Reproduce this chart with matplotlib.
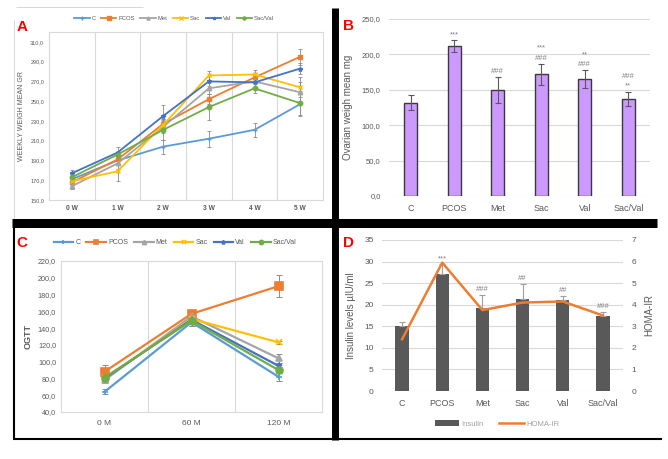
import numpy as np
import matplotlib
matplotlib.use('Agg')
import matplotlib.pyplot as plt
from matplotlib.lines import Line2D

plt.rcParams['font.family'] = ['Liberation Sans', 'DejaVu Sans']

# ---- data ----
groups = ['C', 'PCOS', 'Met', 'Sac', 'Val', 'Sac/Val']
weeks = ['0 W', '1 W', '2 W', '3 W', '4 W', '5 W']

weight_C = [171, 190, 204, 212, 221, 247]
weight_PCOS = [168, 191, 227, 252, 274, 295]
weight_Met = [164, 187, 224, 263, 270, 259]
weight_Sac = [169, 179, 226, 276, 277, 264]
weight_Val = [177, 198, 235, 270, 269, 283]
weight_SacVal = [173, 196, 221, 244, 263, 248]
weight_err_C = [3, 4, 7, 8, 7, 12]
weight_err_PCOS = [3, 4, 5, 5, 5, 8]
weight_err_Met = [3, 6, 6, 6, 6, 10]
weight_err_Sac = [3, 10, 6, 5, 5, 10]
weight_err_Val = [3, 6, 11, 5, 6, 6]
weight_err_SacVal = [3, 4, 10, 13, 5, 12]

ovary_mean = [132, 212, 150, 172, 165, 137]
ovary_err = [11, 8, 18, 15, 13, 10]
ovary_marks = ['', '***', '###', '***\n###', '**\n###', '###\n**']

times = ['0 M', '60 M', '120 M']
ogtt_C = [64, 147, 82]
ogtt_PCOS = [88, 157, 190]
ogtt_Met = [78, 154, 104]
ogtt_Sac = [80, 151, 123]
ogtt_Val = [80, 150, 95]
ogtt_SacVal = [81, 149, 90]
ogtt_err_C = [3, 5, 5]
ogtt_err_PCOS = [8, 4, 13]
ogtt_err_Met = [4, 5, 5]
ogtt_err_Sac = [4, 5, 2]
ogtt_err_Val = [4, 5, 4]
ogtt_err_SacVal = [4, 6, 4]

insulin = [15.1, 27.2, 19.2, 21.4, 21.2, 17.5]
insulin_err = [1.0, 2.2, 3.0, 3.4, 0.9, 0.9]
insulin_marks = ['', '***', '###', '##', '##', '###']
homa_ir = [2.4, 5.95, 3.75, 4.1, 4.15, 3.5]

# excel-ish styles
colors = ['#5B9BD5', '#ED7D31', '#A5A5A5', '#FFC000', '#4472C4', '#70AD47']
markers = ['+', 's', '^', 'x', '*', 'o']
txt = '#595959'
grid_c = '#D9D9D9'

W, H = 668, 459
fig = plt.figure(figsize=(W / 100, H / 100), dpi=100)


def px_axes(l, t, r, b):
    return fig.add_axes([l / W, 1 - b / H, (r - l) / W, (b - t) / H])


def fig_line(x0, y0, x1, y1, lw, color='black'):
    fig.add_artist(Line2D([x0 / W, x1 / W], [1 - y0 / H, 1 - y1 / H],
                          lw=lw, color=color, solid_capstyle='butt'))


def light_box(ax):
    for s in ax.spines.values():
        s.set_color(grid_c)
        s.set_linewidth(0.8)
    ax.tick_params(length=0, colors=txt)


# ---- A: weekly weight ----
axA = px_axes(49, 32, 323, 200)
wt = [weight_C, weight_PCOS, weight_Met, weight_Sac, weight_Val, weight_SacVal]
wt_err = [weight_err_C, weight_err_PCOS, weight_err_Met, weight_err_Sac,
          weight_err_Val, weight_err_SacVal]
xa = np.arange(len(weeks))
for i, g in enumerate(groups):
    axA.errorbar(xa, wt[i], yerr=wt_err[i], fmt='none', ecolor='#8C8C8C',
                 elinewidth=0.6, capsize=1.5, capthick=0.6, zorder=2)
    axA.plot(xa, wt[i], color=colors[i], lw=1.3, marker=markers[i],
             ms=3.2 if markers[i] != 's' else 3.5, mew=1, label=g, zorder=3)
axA.set_xlim(-0.5, 5.5)
axA.set_ylim(150, 320)
axA.set_yticks(np.arange(150, 311, 20))
axA.set_yticklabels(['%d,0' % v for v in range(150, 311, 20)], fontsize=4)
axA.set_xticks(xa)
axA.set_xticklabels(weeks, fontsize=4.8, fontweight='bold')
axA.set_xticks(np.arange(0.5, 5, 1), minor=True)
axA.grid(axis='x', which='minor', color=grid_c, lw=0.8)
axA.tick_params(which='minor', length=0)
light_box(axA)
axA.set_ylabel('WEEKLY WEIGH MEAN GR', fontsize=5, color=txt, labelpad=4)
axA.legend(loc='center', bbox_to_anchor=(174 / W, 1 - 18 / H),
           bbox_transform=fig.transFigure, ncol=6, frameon=False,
           fontsize=4.2, handlelength=2.6, columnspacing=1.0,
           handletextpad=0.3, markerscale=0.7, labelcolor=txt)

# ---- B: ovarian weight ----
axB = px_axes(389, 19, 650, 196)
xb = np.arange(len(groups))
axB.bar(xb, ovary_mean, width=0.31, color='#CC99FF', edgecolor='#3A3A3A',
        lw=1.0, zorder=3)
axB.errorbar(xb, ovary_mean, yerr=ovary_err, fmt='none', ecolor='#595959',
             elinewidth=0.8, capsize=2, capthick=0.8, zorder=4)
for i, m in enumerate(ovary_marks):
    if m:
        axB.annotate(m, (xb[i], ovary_mean[i] + ovary_err[i]), xytext=(0, 1.5),
                     textcoords='offset points', ha='center', va='bottom',
                     fontsize=5.5, color='#7F7F7F', linespacing=1.6)
axB.set_xlim(-0.5, 5.5)
axB.set_ylim(0, 250)
axB.set_yticks(np.arange(0, 251, 50))
axB.set_yticklabels(['%d,0' % v for v in range(0, 251, 50)], fontsize=5.5)
axB.set_xticks(xb)
axB.set_xticklabels(groups, fontsize=6.5)
axB.grid(axis='y', color=grid_c, lw=0.8, zorder=0)
for s in axB.spines.values():
    s.set_visible(False)
axB.tick_params(length=0, colors=txt, pad=6)
axB.set_ylabel('Ovarian weigh mean mg', fontsize=7, color=txt, labelpad=6)

# ---- C: OGTT ----
axC = px_axes(61, 261, 322, 412)
og = [ogtt_C, ogtt_PCOS, ogtt_Met, ogtt_Sac, ogtt_Val, ogtt_SacVal]
og_err = [ogtt_err_C, ogtt_err_PCOS, ogtt_err_Met, ogtt_err_Sac,
          ogtt_err_Val, ogtt_err_SacVal]
xc = np.arange(len(times))
for i, g in enumerate(groups):
    axC.errorbar(xc, og[i], yerr=og_err[i], fmt='none', ecolor='#8C8C8C',
                 elinewidth=0.7, capsize=2, capthick=0.7, zorder=2)
    axC.plot(xc, og[i], color=colors[i], lw=1.6, marker=markers[i],
             ms=5 if markers[i] != 's' else 5.5, mew=1.2, label=g, zorder=3)
axC.set_xlim(-0.5, 2.5)
axC.set_ylim(40, 220)
axC.set_yticks(np.arange(40, 221, 20))
axC.set_yticklabels(['%d,0' % v for v in range(40, 221, 20)], fontsize=5.2)
axC.set_xticks(xc)
axC.set_xticklabels(times, fontsize=6)
axC.set_xticks([0.5, 1.5], minor=True)
axC.grid(axis='x', which='minor', color=grid_c, lw=0.8)
axC.tick_params(which='minor', length=0)
light_box(axC)
axC.tick_params(axis='x', pad=6)
axC.set_ylabel('OGTT', fontsize=6.5, color=txt, fontweight='bold', labelpad=4)
axC.legend(loc='center', bbox_to_anchor=(175 / W, 1 - 243 / H),
           bbox_transform=fig.transFigure, ncol=6, frameon=False,
           fontsize=5, handlelength=2.8, columnspacing=0.9,
           handletextpad=0.3, markerscale=0.6, labelcolor=txt)

# ---- D: insulin / HOMA-IR ----
axD = px_axes(382, 240, 623, 391)
xd = np.arange(len(groups))
axD.bar(xd, insulin, width=0.33, color='#595959', zorder=3, label='Insulin')
axD.errorbar(xd, insulin, yerr=[np.zeros(len(insulin)), insulin_err],
             fmt='none', ecolor='#A0A0A0', elinewidth=0.8, capsize=2,
             capthick=0.8, zorder=4)
for i, m in enumerate(insulin_marks):
    if m:
        axD.annotate(m, (xd[i], insulin[i] + insulin_err[i]), xytext=(0, 1.5),
                     textcoords='offset points', ha='center', va='bottom',
                     fontsize=5.5, color='#7F7F7F')
axD.set_xlim(-0.5, 5.5)
axD.set_ylim(0, 35)
axD.set_yticks(np.arange(0, 36, 5))
axD.tick_params(axis='y', labelsize=6)
axD.set_xticks(xd)
axD.set_xticklabels(groups, fontsize=6.5)
axD.grid(axis='y', color=grid_c, lw=0.8, zorder=0)
for s in axD.spines.values():
    s.set_visible(False)
axD.tick_params(length=0, colors=txt, pad=6)
axD.set_ylabel('Insulin levels \u00b5IU/ml', fontsize=7, color=txt, labelpad=6)

axD2 = axD.twinx()
axD2.plot(xd, homa_ir, color='#ED7D31', lw=1.8, zorder=5, label='HOMA-IR')
axD2.set_ylim(0, 7)
axD2.set_yticks(np.arange(0, 8, 1))
axD2.tick_params(length=0, colors=txt, labelsize=6, pad=6)
for s in axD2.spines.values():
    s.set_visible(False)
axD2.set_ylabel('HOMA-IR', fontsize=7, color=txt, labelpad=6)
h1, l1 = axD.get_legend_handles_labels()
h2, l2 = axD2.get_legend_handles_labels()
fig.legend(h1 + h2, l1 + l2, loc='center', bbox_to_anchor=(497 / W, 1 - 424 / H),
           ncol=2, frameon=False, fontsize=5.5, handlelength=3.2,
           handleheight=0.9, columnspacing=2.0, handletextpad=0.3,
           labelcolor='#A0A0A0')

# ---- panel letters ----
for letter, (lx, ly) in zip('ABCD', [(22, 27), (348, 26), (22, 243), (348, 243)]):
    fig.text(lx / W, 1 - ly / H, letter, color='#FF0000', fontsize=11,
             fontweight='bold', ha='center', va='center')

# ---- frame lines of the composite ----
fig_line(16, 7, 143, 7, 0.6, '#D0D0D0')
fig_line(14, 20, 14, 218, 0.6, '#D0D0D0')
fig_line(334.5, 8, 334.5, 440, 5.0)
fig_line(12, 222.5, 657, 222.5, 6.5)
fig_line(13, 438.5, 662, 438.5, 1.5)
fig_line(14, 227, 14, 439, 1.5)

fig.savefig('out.png', dpi=100)
